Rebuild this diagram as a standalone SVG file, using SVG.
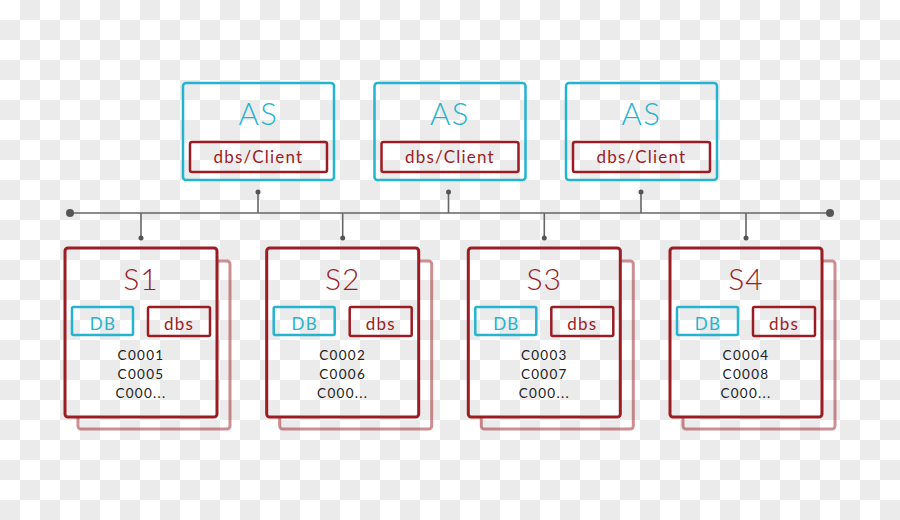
<svg xmlns="http://www.w3.org/2000/svg" width="900" height="520" viewBox="0 0 900 520">
<style>
.as{fill:none;stroke:#25b4cf;stroke-width:2.5}
.red{fill:none;stroke:#9b1d24;stroke-width:2.5}
.sbox{fill:url(#chk);stroke:#9b1d24;stroke-width:3}
.shadow{fill:none;stroke:#9b1d24;stroke-opacity:0.5;stroke-width:3}
.db{fill:none;stroke:#25b4cf;stroke-width:2.5}
text{font-family:Lato,"Open Sans",sans-serif;text-anchor:middle}
.tAS{font-size:31px;font-weight:300;fill:#25b4cf;letter-spacing:1.5px}
.tS{font-size:30px;font-weight:300;fill:#9b1d24;letter-spacing:1px}
.tdc{font-size:17px;fill:#9b1d24;letter-spacing:1.2px}
.tdb{font-size:17px;fill:#25b4cf;letter-spacing:1.2px}
.tdbs{font-size:17px;fill:#9b1d24;letter-spacing:1.2px}
.tc{font-size:13.5px;fill:#222;letter-spacing:1.3px}
.bus{stroke:#666;stroke-width:1.6;fill:none}
.dot{fill:#555}
</style>
<defs>
<pattern id="chk" patternUnits="userSpaceOnUse" x="0" y="0" width="40" height="40">
<rect width="40" height="40" fill="#ffffff"/>
<rect x="20" y="0" width="20" height="20" fill="#ebebeb"/>
<rect x="0" y="20" width="20" height="20" fill="#ebebeb"/>
</pattern>
</defs>
<rect width="900" height="520" fill="url(#chk)"/>

<g id="connectors">
<line class="bus" x1="70" y1="213" x2="830" y2="213"/>
<circle class="dot" cx="70" cy="213" r="4"/>
<circle class="dot" cx="830" cy="213" r="4"/>
<line class="bus" x1="258" y1="192" x2="258" y2="213"/><circle class="dot" cx="258" cy="192" r="2.5"/>
<line class="bus" x1="448.5" y1="192" x2="448.5" y2="213"/><circle class="dot" cx="448.5" cy="192" r="2.5"/>
<line class="bus" x1="641" y1="192" x2="641" y2="213"/><circle class="dot" cx="641" cy="192" r="2.5"/>
<line class="bus" x1="141" y1="213" x2="141" y2="238"/><circle class="dot" cx="141" cy="238" r="2.5"/>
<line class="bus" x1="342.7" y1="213" x2="342.7" y2="238"/><circle class="dot" cx="342.7" cy="238" r="2.5"/>
<line class="bus" x1="544.3" y1="213" x2="544.3" y2="238"/><circle class="dot" cx="544.3" cy="238" r="2.5"/>
<line class="bus" x1="746" y1="213" x2="746" y2="238"/><circle class="dot" cx="746" cy="238" r="2.5"/>
</g>

<g id="as1">
<rect class="as" x="183" y="83" width="151" height="97" rx="3"/>
<text class="tAS" x="258.5" y="125">AS</text>
<rect class="red" x="190" y="142" width="137" height="30" rx="2"/>
<text class="tdc" x="258.5" y="163">dbs/Client</text>
</g>
<g id="as2">
<rect class="as" x="374.5" y="83" width="151" height="97" rx="3"/>
<text class="tAS" x="450" y="125">AS</text>
<rect class="red" x="381.5" y="142" width="137" height="30" rx="2"/>
<text class="tdc" x="450" y="163">dbs/Client</text>
</g>
<g id="as3">
<rect class="as" x="566" y="83" width="151" height="97" rx="3"/>
<text class="tAS" x="641.5" y="125">AS</text>
<rect class="red" x="573" y="142" width="137" height="30" rx="2"/>
<text class="tdc" x="641.5" y="163">dbs/Client</text>
</g>

<g id="s1">
<rect class="shadow" x="78" y="261" width="152" height="168" rx="3"/>
<rect class="sbox" x="65" y="248" width="152" height="169" rx="3"/>
<text class="tS" x="141" y="290">S1</text>
<rect class="db" x="72" y="307" width="61" height="28" rx="1.5"/>
<text class="tdb" x="103" y="330">DB</text>
<rect class="red" x="148" y="307" width="62" height="29" rx="1.5"/>
<text class="tdbs" x="179" y="330">dbs</text>
<text class="tc" x="141" y="360">C0001</text>
<text class="tc" x="141" y="379">C0005</text>
<text class="tc" x="141" y="397.5">C000...</text>
</g>
<g id="s2">
<rect class="shadow" x="279.7" y="261" width="152" height="168" rx="3"/>
<rect class="sbox" x="266.7" y="248" width="152" height="169" rx="3"/>
<text class="tS" x="342.7" y="290">S2</text>
<rect class="db" x="273.7" y="307" width="61" height="28" rx="1.5"/>
<text class="tdb" x="304.7" y="330">DB</text>
<rect class="red" x="349.7" y="307" width="62" height="29" rx="1.5"/>
<text class="tdbs" x="380.7" y="330">dbs</text>
<text class="tc" x="342.7" y="360">C0002</text>
<text class="tc" x="342.7" y="379">C0006</text>
<text class="tc" x="342.7" y="397.5">C000...</text>
</g>
<g id="s3">
<rect class="shadow" x="481.3" y="261" width="152" height="168" rx="3"/>
<rect class="sbox" x="468.3" y="248" width="152" height="169" rx="3"/>
<text class="tS" x="544.3" y="290">S3</text>
<rect class="db" x="475.3" y="307" width="61" height="28" rx="1.5"/>
<text class="tdb" x="506.3" y="330">DB</text>
<rect class="red" x="551.3" y="307" width="62" height="29" rx="1.5"/>
<text class="tdbs" x="582.3" y="330">dbs</text>
<text class="tc" x="544.3" y="360">C0003</text>
<text class="tc" x="544.3" y="379">C0007</text>
<text class="tc" x="544.3" y="397.5">C000...</text>
</g>
<g id="s4">
<rect class="shadow" x="683" y="261" width="152" height="168" rx="3"/>
<rect class="sbox" x="670" y="248" width="152" height="169" rx="3"/>
<text class="tS" x="746" y="290">S4</text>
<rect class="db" x="677" y="307" width="61" height="28" rx="1.5"/>
<text class="tdb" x="708" y="330">DB</text>
<rect class="red" x="753" y="307" width="62" height="29" rx="1.5"/>
<text class="tdbs" x="784" y="330">dbs</text>
<text class="tc" x="746" y="360">C0004</text>
<text class="tc" x="746" y="379">C0008</text>
<text class="tc" x="746" y="397.5">C000...</text>
</g>
</svg>
